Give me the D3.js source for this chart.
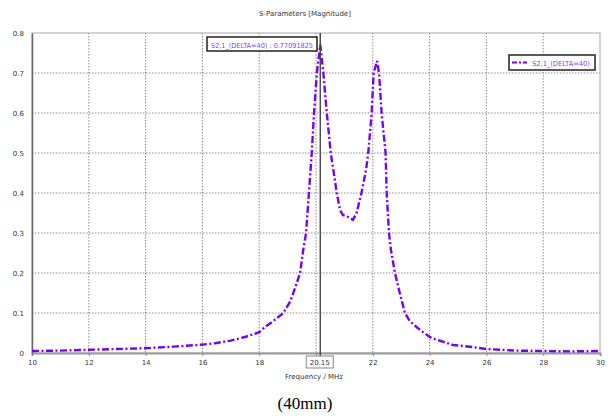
<!DOCTYPE html>
<html><head><meta charset="utf-8">
<script src="https://cdn.jsdelivr.net/npm/d3@7"></script>
<style>body{margin:0;background:#fff}svg{display:block}</style>
</head><body><svg id="c" width="609" height="417"></svg>
<script>
const freq = [10,11,12,13,14,15,16,16.5,17,17.5,18,18.2,18.5,18.85,19.1,19.3,19.44,19.55,19.65,19.75,19.85,19.93,20.03,20.15,20.26,20.38,20.52,20.67,20.73,20.85,20.95,21.13,21.3,21.43,21.6,21.76,21.84,21.96,22.03,22.15,22.22,22.31,22.45,22.49,22.57,22.64,22.78,22.95,23.13,23.3,23.54,23.8,24.08,24.4,24.82,25.5,26,27,28,29,30];
const mag = [0.005,0.006,0.008,0.010,0.012,0.016,0.021,0.025,0.031,0.040,0.052,0.065,0.08,0.1,0.13,0.17,0.2,0.257,0.3,0.4,0.5,0.6,0.7,0.771,0.7,0.6,0.5,0.43,0.4,0.357,0.345,0.34,0.333,0.35,0.4,0.457,0.5,0.6,0.7,0.73,0.7,0.6,0.5,0.4,0.3,0.257,0.2,0.15,0.1,0.08,0.065,0.05,0.037,0.03,0.02,0.015,0.01,0.006,0.005,0.004,0.005];
const xTicks = [10,12,14,16,18,20,22,24,26,28,30];
const xTickLabels = ["10","12","14","16","18","","22","24","26","28","30"];
const yTicks = [0,0.1,0.2,0.3,0.4,0.5,0.6,0.7,0.8];
const yTickLabels = ["0","0.1","0.2","0.3","0.4","0.5","0.6","0.7","0.8"];
const markerFreq = 20.15;
const markerValue = "0.77091825";
const seriesName = "S2,1_(DELTA=40)";
const title = "S-Parameters [Magnitude]";
const xLabel = "Frequency / MHz";
const caption = "(40mm)";

const svg = d3.select("#c");
const L=32, R=600, T=33, B=353;
const x = d3.scaleLinear().domain([10,30]).range([L,R]);
const y = d3.scaleLinear().domain([0,0.8]).range([B,T]);
const font = "DejaVu Sans, Verdana, sans-serif";
const purple = "#7a00f5";

// grid
const g = svg.append("g");
g.selectAll(".gx").data(xTicks.slice(1,-1)).join("line")
  .attr("x1",d=>x(d)).attr("x2",d=>x(d)).attr("y1",T).attr("y2",B)
  .attr("stroke","#8c8c8c").attr("stroke-width",1).attr("stroke-dasharray","1.5,1.5");
g.selectAll(".gy").data(yTicks.slice(1,-1)).join("line")
  .attr("y1",d=>y(d)).attr("y2",d=>y(d)).attr("x1",L).attr("x2",R)
  .attr("stroke","#8c8c8c").attr("stroke-width",1).attr("stroke-dasharray","1.5,1.5");
// frame
svg.append("rect").attr("x",L).attr("y",T).attr("width",R-L).attr("height",B-T)
  .attr("fill","none").attr("stroke","#a8a8a8").attr("stroke-width",1);

// axes
const xAxis = d3.axisBottom(x).tickValues(xTicks).tickSize(3).tickFormat((d,i)=>xTickLabels[i]);
const ax = svg.append("g").attr("transform",`translate(0,${B})`).call(xAxis);
ax.select(".domain").attr("stroke","#9a9a9a").attr("stroke-width",2);
ax.selectAll(".tick line").attr("stroke","#888");
ax.selectAll("text").attr("font-family",font).attr("font-size",7).attr("fill","#333").attr("dy","0.9em");
const yAxis = d3.axisLeft(y).tickValues(yTicks).tickSize(0).tickPadding(8).tickFormat((d,i)=>yTickLabels[i]);
const ay = svg.append("g").attr("transform",`translate(${L},0)`).call(yAxis);
ay.select(".domain").attr("stroke","#666").attr("stroke-width",1.5);
ay.selectAll("text").attr("font-family",font).attr("font-size",7).attr("fill","#333");

// curve
const line = d3.line().x((d,i)=>x(freq[i])).y(d=>y(d));
svg.append("path").datum(mag).attr("d",line).attr("fill","none")
  .attr("stroke",purple).attr("stroke-width",2.4).attr("stroke-dasharray","7,2.5,2,2.5");

// marker line
svg.append("line").attr("x1",x(markerFreq)).attr("x2",x(markerFreq)).attr("y1",T).attr("y2",B+4)
  .attr("stroke","#444").attr("stroke-width",1.4);

// marker label box
const mb = svg.append("g");
mb.append("rect").attr("x",207).attr("y",37).attr("width",110).attr("height",14)
  .attr("fill","#fff").attr("stroke","#222").attr("stroke-width",1.5);
mb.append("text").attr("x",211).attr("y",47.5).attr("font-family",font).attr("font-size",7)
  .attr("textLength",102).attr("lengthAdjust","spacingAndGlyphs")
  .attr("fill","#8a3cf0").text(`${seriesName} : ${markerValue}`);

// marker freq box
const mx = x(markerFreq);
svg.append("rect").attr("x",mx-14).attr("y",356).attr("width",27).attr("height",12)
  .attr("fill","#fff").attr("stroke","#888").attr("stroke-width",1);
svg.append("text").attr("x",mx-0.5).attr("y",365).attr("text-anchor","middle")
  .attr("font-family",font).attr("font-size",7).attr("fill","#333").text(markerFreq.toFixed(2));

// legend
const lg = svg.append("g");
lg.append("rect").attr("x",509).attr("y",55).attr("width",86).attr("height",15)
  .attr("fill","#fff").attr("stroke","#222").attr("stroke-width",1.5);
lg.append("line").attr("x1",512).attr("x2",527).attr("y1",62.5).attr("y2",62.5)
  .attr("stroke",purple).attr("stroke-width",2.2).attr("stroke-dasharray","5,2,2,2");
lg.append("text").attr("x",532).attr("y",65.5).attr("font-family",font).attr("font-size",7)
  .attr("textLength",58).attr("lengthAdjust","spacingAndGlyphs")
  .attr("fill","#8a3cf0").text(seriesName);

// titles
svg.append("text").attr("x",305).attr("y",16).attr("text-anchor","middle")
  .attr("font-family",font).attr("font-size",7).attr("fill","#333").text(title);
svg.append("text").attr("x",314).attr("y",379).attr("text-anchor","middle")
  .attr("font-family",font).attr("font-size",7).attr("fill","#333").text(xLabel);
svg.append("text").attr("x",305).attr("y",409).attr("text-anchor","middle")
  .attr("font-family","Liberation Serif, Times New Roman, serif").attr("font-size",17).attr("fill","#000").text(caption);
</script></body></html>
